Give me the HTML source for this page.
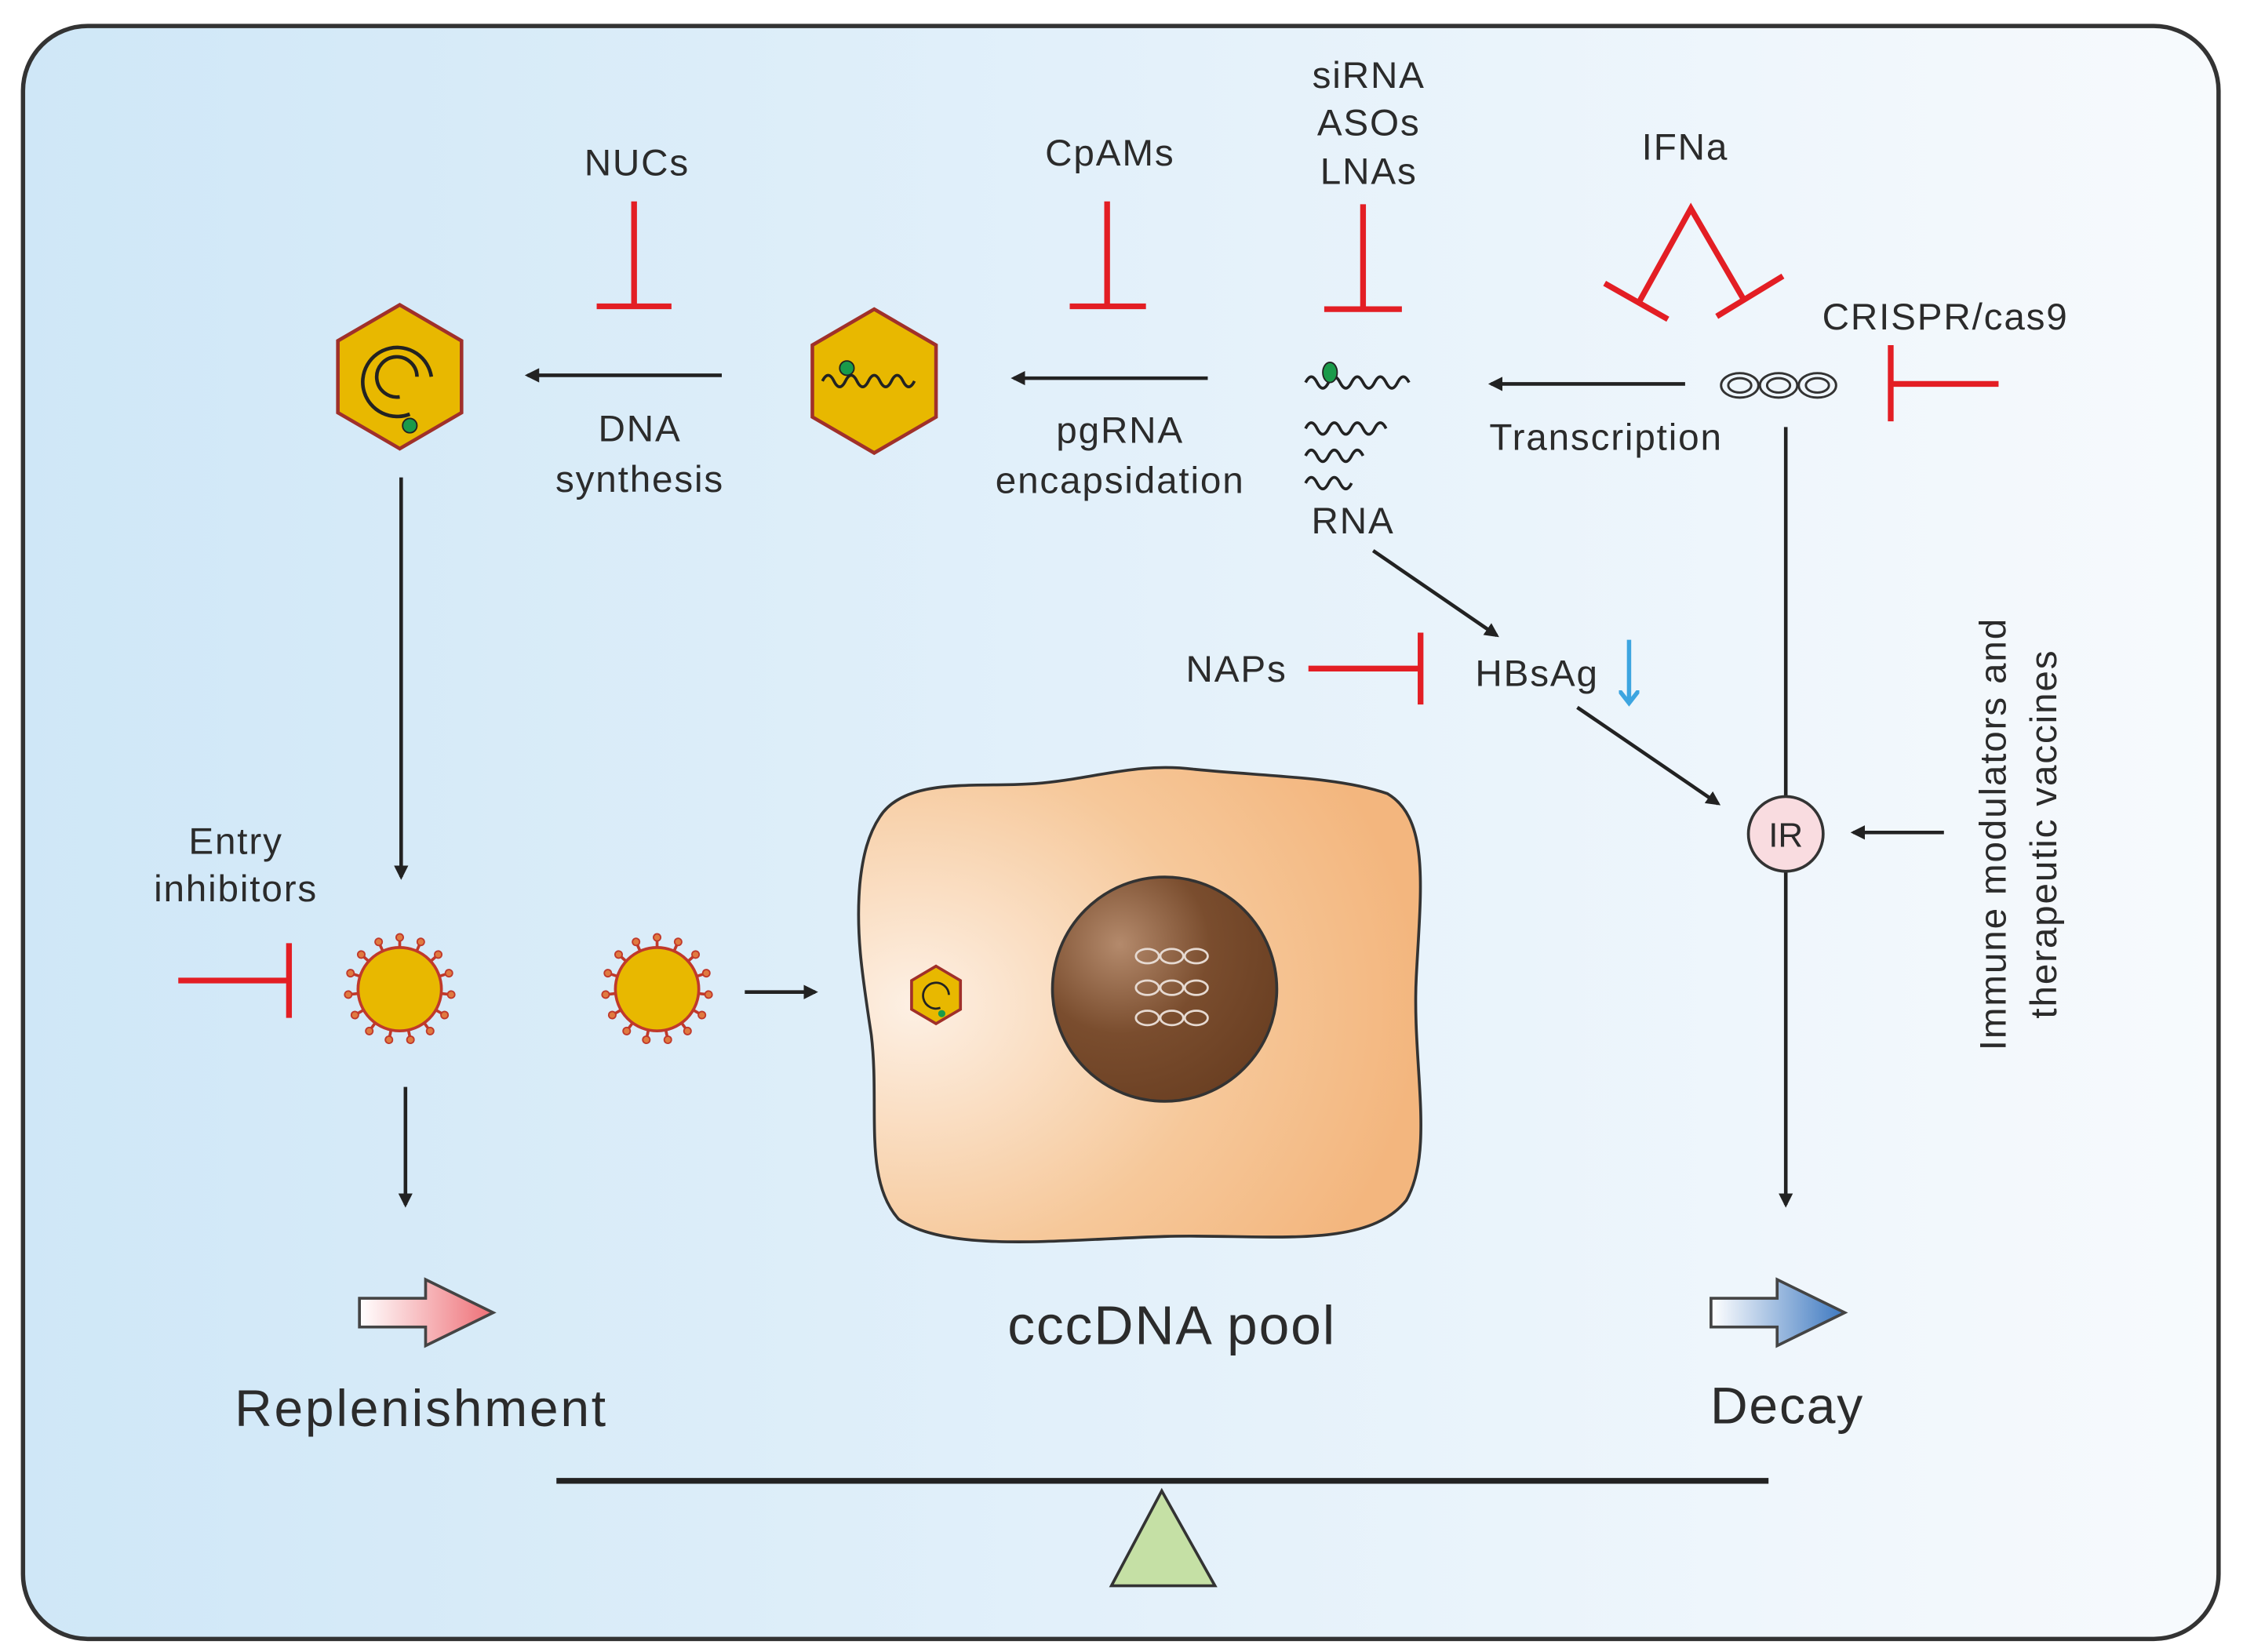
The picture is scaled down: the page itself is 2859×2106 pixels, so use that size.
<!DOCTYPE html>
<html><head><meta charset="utf-8"><style>
html,body{margin:0;padding:0;background:#fff}
svg{display:block}
text{font-family:"Liberation Sans","DejaVu Sans",sans-serif;fill:#2b2b2b}
</style></head><body>
<svg width="2859" height="2106" viewBox="0 0 1560 1149" xmlns="http://www.w3.org/2000/svg">
<defs>
<linearGradient id="bg" x1="0" y1="0" x2="1" y2="0"><stop offset="0" stop-color="#cfe7f7"/><stop offset="1" stop-color="#f7fafd"/></linearGradient>
<radialGradient id="cell" cx="0.1" cy="0.5" r="0.9"><stop offset="0" stop-color="#fdf0e4"/><stop offset="0.6" stop-color="#f6c89a"/><stop offset="1" stop-color="#f3b67e"/></radialGradient>
<radialGradient id="nuc" cx="0.3" cy="0.3" r="0.8"><stop offset="0" stop-color="#b48a6c"/><stop offset="0.5" stop-color="#7a4d2e"/><stop offset="1" stop-color="#6a3f22"/></radialGradient>
<linearGradient id="pink" x1="0" x2="1"><stop offset="0" stop-color="#fff"/><stop offset="1" stop-color="#ee6f76"/></linearGradient>
<linearGradient id="blue" x1="0" x2="1"><stop offset="0" stop-color="#fff"/><stop offset="1" stop-color="#3d78c0"/></linearGradient>
<marker id="ar" markerWidth="10" markerHeight="10" refX="8" refY="5" orient="auto" markerUnits="userSpaceOnUse"><path d="M0,0 L10,5 L0,10 z" fill="#222"/></marker>
<marker id="ab" markerWidth="12" markerHeight="14" refX="8" refY="7" orient="auto" markerUnits="userSpaceOnUse"><path d="M0,0 L9,7 L0,14" fill="none" stroke="#3da5e0" stroke-width="3"/></marker>
<g id="sp"><line x1="0" y1="-28" x2="0" y2="-35" stroke="#c0392b" stroke-width="2"/><circle cx="0" cy="-36" r="2.5" fill="#e07a40" stroke="#c0392b" stroke-width="1"/></g>
<g id="virus">
<use href="#sp"/><use href="#sp" transform="rotate(24)"/><use href="#sp" transform="rotate(48)"/><use href="#sp" transform="rotate(72)"/><use href="#sp" transform="rotate(96)"/><use href="#sp" transform="rotate(120)"/><use href="#sp" transform="rotate(144)"/><use href="#sp" transform="rotate(168)"/><use href="#sp" transform="rotate(192)"/><use href="#sp" transform="rotate(216)"/><use href="#sp" transform="rotate(240)"/><use href="#sp" transform="rotate(264)"/><use href="#sp" transform="rotate(288)"/><use href="#sp" transform="rotate(312)"/><use href="#sp" transform="rotate(336)"/>
<circle r="29" fill="#e8b800" stroke="#c0392b" stroke-width="2"/>
</g>
<g id="rings" fill="none" stroke="#333" stroke-width="1.6">
<ellipse cx="0" cy="0" rx="13" ry="8.5"/><ellipse cx="0" cy="0" rx="8" ry="5"/>
<ellipse cx="27" cy="0" rx="13" ry="8.5"/><ellipse cx="27" cy="0" rx="8" ry="5"/>
<ellipse cx="54" cy="0" rx="13" ry="8.5"/><ellipse cx="54" cy="0" rx="8" ry="5"/>
</g>
</defs>
<rect x="0" y="0" width="1560" height="1149" fill="#fff"/>
<rect x="16" y="18" width="1527" height="1122" rx="45" fill="url(#bg)" stroke="#333" stroke-width="3"/>

<g font-size="26" text-anchor="middle" letter-spacing="1">
<text x="443" y="122">NUCs</text>
<text x="772" y="115">CpAMs</text>
<text x="952" y="61">siRNA</text>
<text x="952" y="94">ASOs</text>
<text x="952" y="128">LNAs</text>
<text x="1172" y="111">IFNa</text>
<text x="1353" y="229">CRISPR/cas9</text>
<text x="445" y="307">DNA</text>
<text x="445" y="342">synthesis</text>
<text x="779" y="308">pgRNA</text>
<text x="779" y="343">encapsidation</text>
<text x="1117" y="313">Transcription</text>
<text x="941" y="371">RNA</text>
<text x="860" y="474">NAPs</text>
<text x="1069" y="477">HBsAg</text>
<text x="164" y="594">Entry</text>
<text x="164" y="627">inhibitors</text>
<text transform="translate(1395,580) rotate(-90)">Immune modulators and</text>
<text transform="translate(1430,580) rotate(-90)">therapeutic vaccines</text>
</g>
<text x="815" y="935" font-size="38" text-anchor="middle" letter-spacing="1">cccDNA pool</text>
<text x="293" y="992" font-size="36" text-anchor="middle" letter-spacing="1.5">Replenishment</text>
<text x="1243" y="990" font-size="36" text-anchor="middle" letter-spacing="1">Decay</text>

<g stroke="#e31e24" stroke-width="4" fill="none">
<path d="M441,140 V213 M415,213 H467"/>
<path d="M770,140 V213 M744,213 H797"/>
<path d="M948,142 V215 M921,215 H975"/>
<path d="M1140,210 L1176,145 L1212,207"/>
<path d="M1116,197 L1160,222 M1194,220 L1240,192"/>
<path d="M1315,267 H1390 M1315,240 V293"/>
<path d="M910,465 H988 M988,440 V490"/>
<path d="M124,682 H201 M201,656 V708"/>
</g>

<g stroke="#222" stroke-width="2.5" marker-end="url(#ar)">
<line x1="502" y1="261" x2="367" y2="261"/>
<line x1="840" y1="263" x2="705" y2="263"/>
<line x1="1172" y1="267" x2="1037" y2="267"/>
<line x1="279" y1="332" x2="279" y2="610"/>
<line x1="955" y1="383" x2="1041" y2="442"/>
<line x1="1097" y1="492" x2="1195" y2="559"/>
<line x1="1352" y1="579" x2="1289" y2="579"/>
<line x1="1242" y1="606" x2="1242" y2="838"/>
<line x1="282" y1="756" x2="282" y2="838"/>
<line x1="518" y1="690" x2="567" y2="690"/>
</g>
<line x1="1242" y1="297" x2="1242" y2="554" stroke="#222" stroke-width="2.5"/>
<line x1="1133" y1="445" x2="1133" y2="488" stroke="#3da5e0" stroke-width="3" marker-end="url(#ab)"/>
<circle cx="1242" cy="580" r="26" fill="#f9dce0" stroke="#333" stroke-width="2"/>
<text x="1242" y="589" font-size="24" text-anchor="middle">IR</text>

<polygon points="278,212 321,237 321,287 278,312 235,287 235,237" fill="#e8b800" stroke="#a0302a" stroke-width="2.5"/>
<g fill="none" stroke="#222" stroke-width="2.5"><path d="M300,262 A24,24 0 1 0 285,288"/><path d="M290,262 A14,14 0 1 0 278,276"/></g>
<circle cx="285" cy="296" r="5" fill="#1a9a4a" stroke="#222"/>
<polygon points="608,215 651,240 651,290 608,315 565,290 565,240" fill="#e8b800" stroke="#a0302a" stroke-width="2.5"/>
<path d="M572,265 q4,-8 8,0 t8,0 t8,0 t8,0 t8,0 t8,0 t8,0 t8,0" fill="none" stroke="#222" stroke-width="2"/>
<circle cx="589" cy="256" r="5" fill="#1a9a4a" stroke="#222"/>

<g fill="none" stroke="#222" stroke-width="2">
<path d="M908,266 q4,-8 8,0 t8,0 t8,0 t8,0 t8,0 t8,0 t8,0 t8,0 t8,0"/>
<path d="M908,298 q4,-8 8,0 t8,0 t8,0 t8,0 t8,0 t8,0 t8,0"/>
<path d="M908,317 q4,-8 8,0 t8,0 t8,0 t8,0 t8,0"/>
<path d="M908,336 q4,-8 8,0 t8,0 t8,0 t8,0"/>
</g>
<ellipse cx="925" cy="259" rx="5" ry="7" fill="#1a9a4a" stroke="#222"/>
<use href="#rings" x="1210" y="268"/>

<use href="#virus" x="278" y="688"/>
<use href="#virus" x="457" y="688"/>

<path d="M612,568 C630,540 680,548 720,545 C760,542 790,530 830,535 C880,540 930,540 965,552 C995,570 988,620 985,680 C982,740 998,800 978,835 C950,870 880,858 810,860 C740,862 660,872 625,848 C600,820 612,770 606,720 C600,680 595,650 598,615 C600,595 604,580 612,568 Z" fill="url(#cell)" stroke="#333" stroke-width="2"/>
<circle cx="810" cy="688" r="78" fill="url(#nuc)" stroke="#333" stroke-width="2"/>
<g fill="none" stroke="#e6dad2" stroke-width="1.5">
<ellipse cx="798" cy="665" rx="8" ry="5"/><ellipse cx="815" cy="665" rx="8" ry="5"/><ellipse cx="832" cy="665" rx="8" ry="5"/>
<ellipse cx="798" cy="687" rx="8" ry="5"/><ellipse cx="815" cy="687" rx="8" ry="5"/><ellipse cx="832" cy="687" rx="8" ry="5"/>
<ellipse cx="798" cy="708" rx="8" ry="5"/><ellipse cx="815" cy="708" rx="8" ry="5"/><ellipse cx="832" cy="708" rx="8" ry="5"/>
</g>
<polygon points="651,672 668,682 668,702 651,712 634,702 634,682" fill="#e8b800" stroke="#a0302a" stroke-width="2"/>
<path d="M660,692 A9,9 0 1 0 654,701" fill="none" stroke="#222" stroke-width="1.5"/>
<circle cx="655" cy="705" r="2.5" fill="#1a9a4a"/>

<path d="M250,903 H296 V890 L343,913 L296,936 V923 H250 Z" fill="url(#pink)" stroke="#444" stroke-width="2"/>
<path d="M1190,903 H1236 V890 L1283,913 L1236,936 V923 H1190 Z" fill="url(#blue)" stroke="#444" stroke-width="2"/>

<line x1="387" y1="1030" x2="1230" y2="1030" stroke="#222" stroke-width="4"/>
<polygon points="808,1037 773,1103 845,1103" fill="#c5e0a5" stroke="#333" stroke-width="2"/>
</svg>
</body></html>
